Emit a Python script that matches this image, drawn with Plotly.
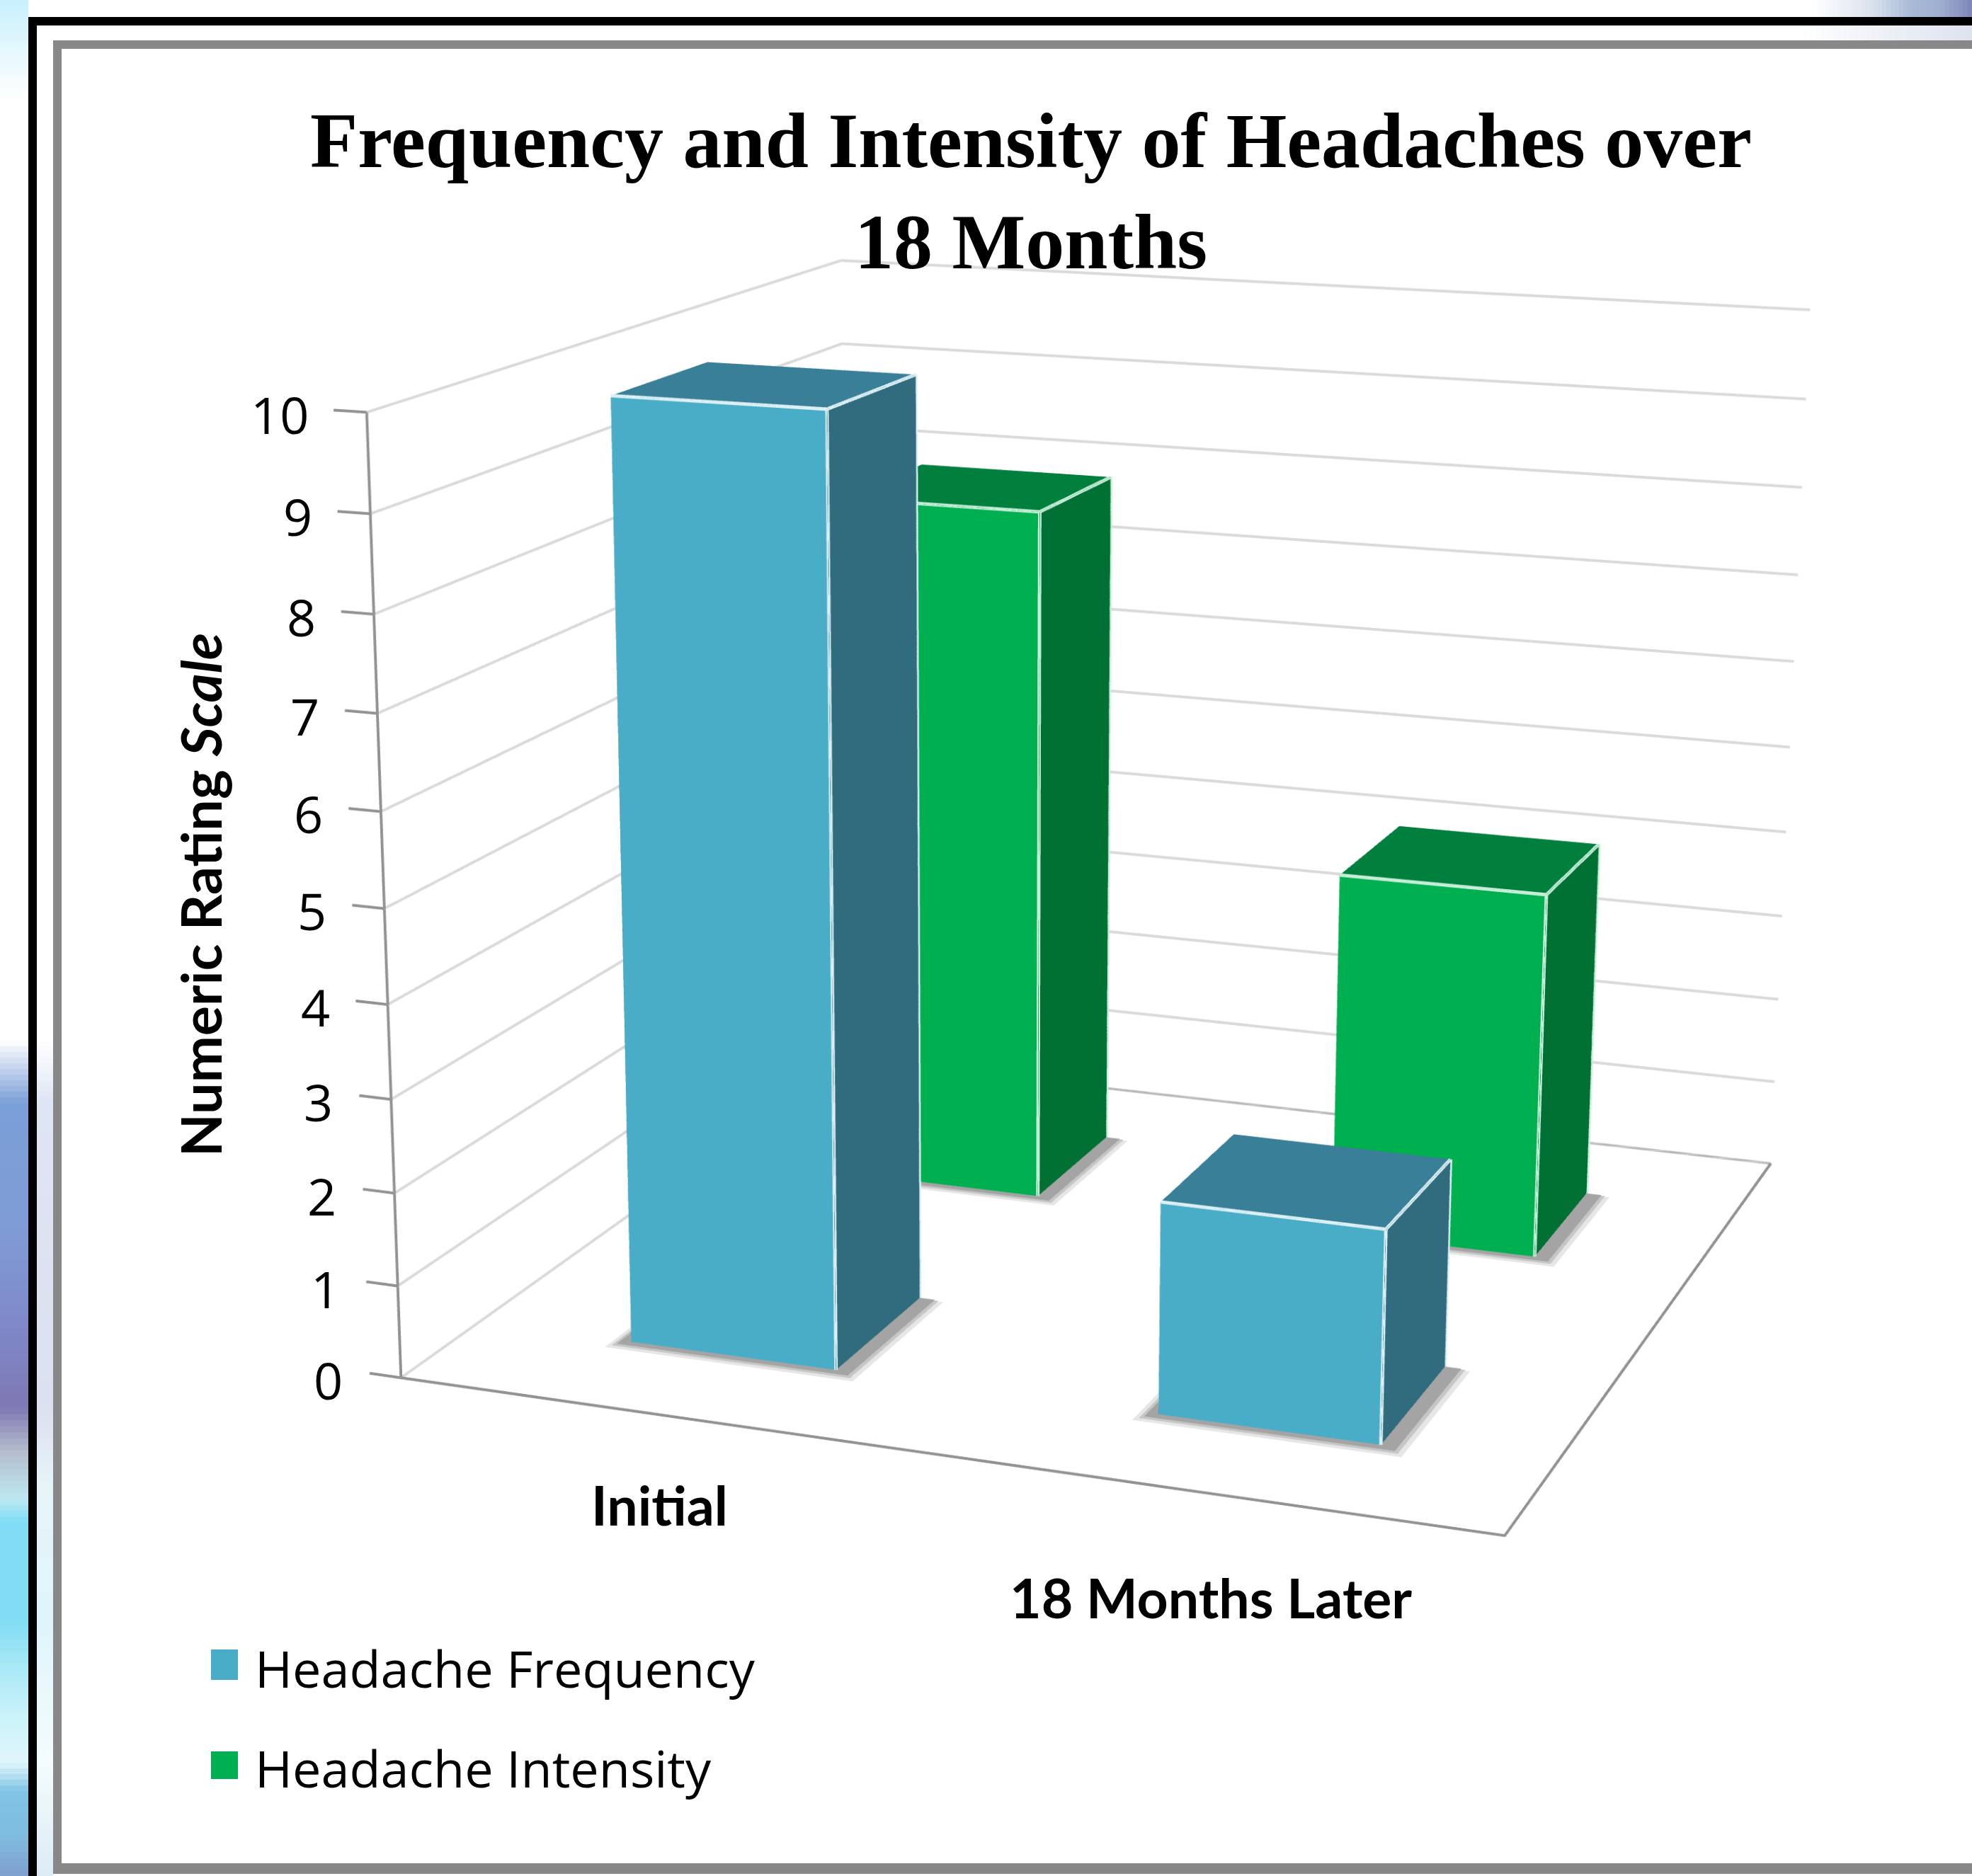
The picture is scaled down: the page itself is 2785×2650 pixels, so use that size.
import plotly.graph_objects as go

# ---- chart data ----
categories = ["Initial", "18 Months Later"]
series_names = ["Headache Frequency", "Headache Intensity"]
headache_frequency = [10, 2.27]
headache_intensity = [7.95, 4.15]
z_ticks = [0, 1, 2, 3, 4, 5, 6, 7, 8, 9, 10]
chart_title = "<b>Frequency and Intensity of Headaches over<br>18 Months</b>"
z_title = "<b>Numeric Rating <i>Scale</i></b>"

# ---- page / figure geometry ----
# The reference has a long-lens view, so the figure is larger than the page and
# shifted, which gives the scene the reference's narrower field of view.
PAGE_W, PAGE_H = 2785, 2650
FIG_W, FIG_H = 5580, 5580
LEFT, TOP = -1387, -1468


def px(x):
    return (x - LEFT) / FIG_W


def py(y):
    return 1 - (y - TOP) / FIG_H


BLUE = dict(front="#4AADC8", side="#306B7E", top="#3A7F98", edge="#DCF0F5")
GREEN = dict(front="#00B050", side="#007033", top="#00803C", edge="#C6EED8")
X_IN, X_OUT = 0.305, 0.703
Y_IN, Y_OUT = 0.295, 0.685
GRID = "#DADADA"
AXIS = "#929292"
FLAT = dict(ambient=1, diffuse=0, specular=0, roughness=1, fresnel=0)


def box_mesh(name, vals, row, c):
    xs, ys, zs, i, j, k, fc = [], [], [], [], [], [], []
    for n, v in enumerate(vals):
        x0, x1 = n + X_IN, n + X_OUT
        y0, y1 = row + Y_IN, row + Y_OUT
        b = len(xs)
        xs += [x0, x1, x1, x0, x0, x1, x1, x0]
        ys += [y0, y0, y1, y1, y0, y0, y1, y1]
        zs += [0, 0, 0, 0, v, v, v, v]
        faces = [((0, 1, 5), "front"), ((0, 5, 4), "front"),
                 ((1, 2, 6), "side"), ((1, 6, 5), "side"),
                 ((4, 5, 6), "top"), ((4, 6, 7), "top"),
                 ((3, 2, 6), "side"), ((3, 6, 7), "side"),
                 ((0, 3, 7), "side"), ((0, 7, 4), "side"),
                 ((0, 1, 2), "side"), ((0, 2, 3), "side")]
        for (a, d, e), key in faces:
            i.append(b + a); j.append(b + d); k.append(b + e); fc.append(c[key])
    return go.Mesh3d(x=xs, y=ys, z=zs, i=i, j=j, k=k, facecolor=fc, flatshading=True,
                     name=name, hoverinfo="skip", lighting=FLAT)


def edge_lines(vals, row, c):
    xs, ys, zs = [], [], []
    for n, v in enumerate(vals):
        x0, x1 = n + X_IN, n + X_OUT
        y0, y1 = row + Y_IN, row + Y_OUT
        for p, q in [((x1, y0, 0), (x1, y0, v)), ((x0, y0, v), (x1, y0, v)),
                     ((x1, y0, v), (x1, y1, v)), ((x1, y0, 0), (x1, y1, 0)),
                     ((x1, y1, 0), (x1, y1, v)), ((x0, y0, 0), (x1, y0, 0))]:
            xs += [p[0], q[0], None]; ys += [p[1], q[1], None]; zs += [p[2], q[2], None]
    return go.Scatter3d(x=xs, y=ys, z=zs, mode="lines", hoverinfo="skip", showlegend=False,
                        line=dict(color=c["edge"], width=5))


def shadow_mesh(vals, row, color, grow, lift):
    xs, ys, zs, i, j, k = [], [], [], [], [], []
    for n, _ in enumerate(vals):
        x0, x1 = n + X_IN - 0.02 - grow, n + X_OUT + 0.03 + grow
        y0, y1 = row + Y_IN - 0.018 - grow, row + Y_OUT
        b = len(xs)
        xs += [x0, x1, x1, x0]; ys += [y0, y0, y1, y1]; zs += [lift] * 4
        i += [b, b]; j += [b + 1, b + 2]; k += [b + 2, b + 3]
    return go.Mesh3d(x=xs, y=ys, z=zs, i=i, j=j, k=k, color=color, flatshading=True,
                     hoverinfo="skip", lighting=FLAT)


fig = go.Figure()

# gridlines on the left and back walls
gx, gy, gz = [], [], []
for t in z_ticks:
    gx += [0, 0, 2, None]; gy += [0, 2, 2, None]; gz += [t, t, t, None]
fig.add_trace(go.Scatter3d(x=gx, y=gy, z=gz, mode="lines", hoverinfo="skip", showlegend=False,
                           line=dict(color=GRID, width=4)))
fig.add_trace(go.Scatter3d(x=[0, 2], y=[2, 2], z=[0, 0], mode="lines", hoverinfo="skip", showlegend=False,
                           line=dict(color="#B8B8B8", width=3)))

# floor outline, value axis and ticks
ax, ay, az = [0, 2, 2, None, 0, 0, None], [0, 0, 2, None, 0, 0, None], [0, 0, 0, None, 0, z_ticks[-1], None]
for t in z_ticks:
    ax += [-0.062, 0, None]; ay += [0, 0, None]; az += [t, t, None]
fig.add_trace(go.Scatter3d(x=ax, y=ay, z=az, mode="lines", hoverinfo="skip", showlegend=False,
                           line=dict(color=AXIS, width=4)))

for row, vals in enumerate([headache_frequency, headache_intensity]):
    fig.add_trace(shadow_mesh(vals, row, "#E6E6E6", 0.016, 0.0))
    fig.add_trace(shadow_mesh(vals, row, "#C6C6C6", 0.007, 0.008))
    fig.add_trace(shadow_mesh(vals, row, "#A4A4A4", 0.0, 0.016))

fig.add_trace(box_mesh(series_names[0], headache_frequency, 0, BLUE))
fig.add_trace(box_mesh(series_names[1], headache_intensity, 1, GREEN))
fig.add_trace(edge_lines(headache_frequency, 0, BLUE))
fig.add_trace(edge_lines(headache_intensity, 1, GREEN))

# ---- page decoration: frames and corner washes ----
shapes = []


def rect(x0, y0, x1, y1, color):
    shapes.append(dict(type="rect", xref="paper", yref="paper", x0=px(x0), x1=px(x1),
                       y0=py(y0), y1=py(y1), fillcolor=color, line=dict(width=0), layer="below"))


def mix(a, b, t):
    ca = [int(a[i:i + 2], 16) for i in (1, 3, 5)]
    cb = [int(b[i:i + 2], 16) for i in (1, 3, 5)]
    return "#%02X%02X%02X" % tuple(round(p + (q - p) * t) for p, q in zip(ca, cb))


def wash(stops, place, step=6):
    for (p0, c0), (p1, c1) in zip(stops, stops[1:]):
        n = max(1, int((p1 - p0) / step))
        for m in range(n):
            place(p0 + (p1 - p0) * m / n, p0 + (p1 - p0) * (m + 1) / n + 1, mix(c0, c1, (m + 0.5) / n))


left_stops = [(0, "#C8F0FC"), (140, "#FFFFFF"), (1470, "#FFFFFF"), (1558, "#7B9FD8"), (1731, "#7F9CD6"),
              (1860, "#7F8ACA"), (1989, "#7F78B4"), (2049, "#B4BCCC"), (2118, "#BDE8F2"), (2150, "#80DDF5"),
              (2290, "#80DDF5"), (2350, "#A6E8F6"), (2420, "#C8F2F9"), (2490, "#E0F6FB"), (2530, "#80C4E4"),
              (2592, "#80BCE0"), (2650, "#7F9FCF")]
mid_stops = [(1470, "#FFFFFF"), (1558, "#DEE5F4"), (1989, "#DDE0F0"), (2100, "#E6F4F8"), (2290, "#DFF5FB"),
             (2490, "#F4FCFD"), (2650, "#DCEBF5")]
top_stops = [(2560, "#FFFFFF"), (2640, "#DDE4EF"), (2700, "#A8BAD6"), (2740, "#A0AFD0"), (2785, "#7F86B8")]
gap_stops = [(2540, "#FFFFFF"), (2660, "#EEF1F7"), (2785, "#DFE2F0")]
wash(left_stops, lambda a, b, c: rect(0, a, 40, b, c), step=8)
wash(mid_stops, lambda a, b, c: rect(52, a, 75, b, c), step=8)
wash(top_stops, lambda a, b, c: rect(a, 0, b, 24, c), step=6)
wash(gap_stops, lambda a, b, c: rect(a, 36, b, 57, c), step=8)

# black outer frame, grey inner frame
rect(40, 24, 52, PAGE_H, "#000000")
rect(40, 24, PAGE_W, 36, "#000000")
rect(75, 57, 87, 2647, "#888888")
rect(75, 57, PAGE_W, 69, "#888888")
rect(75, 2632, PAGE_W, 2647, "#888888")

# legend swatches
legend_rows = [(2330, 2373, BLUE["front"]), (2474, 2513, GREEN["front"])]
for y0, y1, c in legend_rows:
    rect(298, y0, 336, y1, c)

annotations = [
    dict(text=z_title, xref="paper", yref="paper", x=px(282), y=py(1264), showarrow=False,
         textangle=-90, xanchor="center", yanchor="middle",
         font=dict(family="Lato", size=79, color="#000000")),
]
for name, (y0, y1, _) in zip(series_names, legend_rows):
    annotations.append(dict(text=name, xref="paper", yref="paper", x=px(358), y=py((y0 + y1) / 2 + 4),
                            showarrow=False, xanchor="left", yanchor="middle",
                            font=dict(family="Open Sans", size=72, color="#000000")))

scene_ann = []
for t in z_ticks:
    scene_ann.append(dict(x=0, y=0, z=t, text=str(t), showarrow=False, xanchor="right", yanchor="middle",
                          xshift=-80, yshift=-3, font=dict(family="Open Sans", size=72, color="#000000")))
for n, (cat, shift) in enumerate(zip(categories, [-127, -146])):
    scene_ann.append(dict(x=n + 0.5, y=0, z=0, text=f"<b>{cat}</b>", showarrow=False, xanchor="center",
                          yanchor="middle", yshift=shift, font=dict(family="Lato", size=77, color="#000000")))

hidden = dict(visible=False, showgrid=False, showspikes=False, showbackground=False, zeroline=False)
fig.update_layout(
    width=FIG_W, height=FIG_H, margin=dict(l=0, r=0, t=0, b=0, pad=0, autoexpand=False),
    paper_bgcolor="#FFFFFF", showlegend=False, hovermode=False,
    title=dict(text=chart_title, xref="paper", yref="paper", x=px(1456), y=py(236), xanchor="center",
               yanchor="top", font=dict(family="Liberation Serif", size=110, color="#000000")),
    shapes=shapes, annotations=annotations,
    scene=dict(
        domain=dict(x=[0, 1], y=[0, 1]),
        bgcolor="rgba(0,0,0,0)",
        xaxis=dict(range=[-0.3, 2.3], **hidden),
        yaxis=dict(range=[-0.3, 2.3], **hidden),
        zaxis=dict(range=[-1, 11], **hidden),
        aspectmode="manual",
        aspectratio=dict(x=1.3, y=1.331, z=1.027),
        camera=dict(eye=dict(x=1.391, y=-4.005, z=1.073),
                    center=dict(x=-0.110, y=-0.072, z=-0.100),
                    up=dict(x=0, y=0, z=1),
                    projection=dict(type="perspective")),
        annotations=scene_ann,
    ),
)

post = f"""
document.documentElement.style.overflow='hidden';
document.body.style.margin='0';
document.body.style.overflow='hidden';
var gd=document.getElementById('{{plot_id}}');
gd.style.position='absolute';
gd.style.left='{LEFT}px';
gd.style.top='{TOP}px';
"""
fig.write_html("out.html", post_script=post, config=dict(displayModeBar=False, responsive=False))
